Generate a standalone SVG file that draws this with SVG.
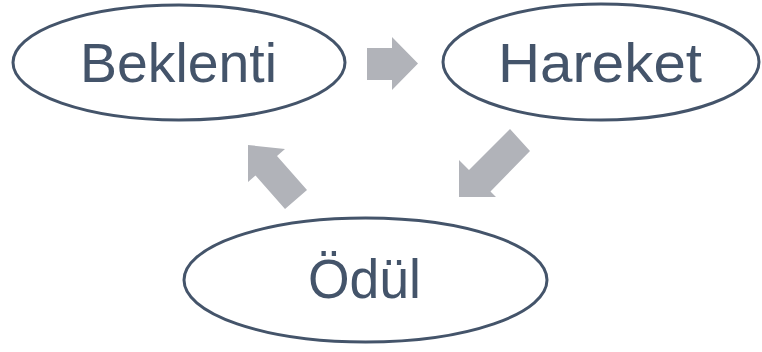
<svg xmlns="http://www.w3.org/2000/svg" width="762" height="352" viewBox="0 0 762 352">
  <style>
    .node ellipse { fill: #ffffff; stroke: #44546A; stroke-width: 3; }
    .node text { font-family: "Liberation Sans", Arial, sans-serif; font-size: 55px; fill: #44546A; text-anchor: middle; }
    .arrow { fill: #B1B3B9; stroke: none; }
  </style>
  <rect width="762" height="352" fill="#ffffff"/>
  <g id="connectors">
    <polygon class="arrow" points="367,48 392,48 392,37 418,63.5 392,90 392,80 367,80"/>
    <polygon class="arrow" points="459,197 459,160 469,170 510,129 530,151 490.5,191.5 496,197"/>
    <polygon class="arrow" points="248,145 285,149 277,156 307,190 285,209 255.5,175.5 248,182"/>
  </g>
  <g id="node-beklenti" class="node">
    <ellipse cx="179" cy="62.5" rx="166" ry="57.5"/>
    <text x="178.5" y="82" textLength="197" lengthAdjust="spacingAndGlyphs">Beklenti</text>
  </g>
  <g id="node-hareket" class="node">
    <ellipse cx="601" cy="62" rx="158" ry="58"/>
    <text x="600" y="82" textLength="204" lengthAdjust="spacingAndGlyphs">Hareket</text>
  </g>
  <g id="node-odul" class="node">
    <ellipse cx="365.5" cy="280" rx="181.5" ry="62"/>
    <text x="364.5" y="298" textLength="113" lengthAdjust="spacingAndGlyphs">Ödül</text>
  </g>
</svg>
